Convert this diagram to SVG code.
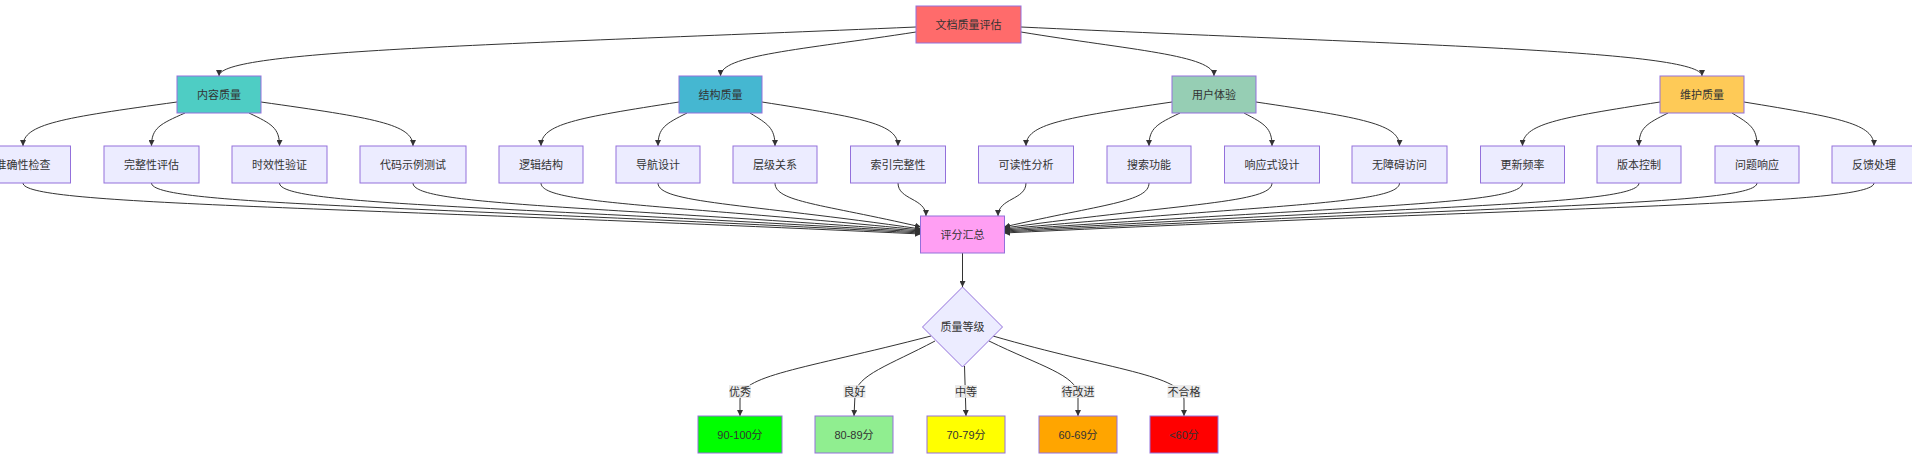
<svg xmlns="http://www.w3.org/2000/svg" width="1912" height="464" viewBox="0 0 1912 464">
<style>
.bg{fill:#ffffff}
.n rect,.n polygon{stroke:#9370DB;stroke-width:1;fill:#ECECFF}
.n text,.lbl text{font-family:"Liberation Sans","Noto Sans CJK SC",sans-serif;font-size:11px;fill:#333;text-anchor:middle;dominant-baseline:central}
.e path{fill:none;stroke:#333;stroke-width:1;marker-end:url(#arr)}
.lbl rect{fill:#e8e8e8;opacity:0.85}
</style>
<defs>
<marker id="arr" viewBox="0 0 10 10" refX="10" refY="5" markerUnits="userSpaceOnUse" markerWidth="6" markerHeight="6" orient="auto"><path d="M0,0 L10,5 L0,10 z" fill="#333"/></marker>
</defs>
<rect class="bg" x="0" y="0" width="1912" height="464"/>
<g id="edges" class="e">
<path d="M916,27 C500,45 219,50 219,76"/>
<path d="M916,32 C800,50 720.5,55 720.5,76"/>
<path d="M1021,32 C1130,50 1214,55 1214,76"/>
<path d="M1021,27 C1400,45 1702,50 1702,76"/>
<path d="M177,102 C61,118 23,124 23,146"/>
<path d="M185,113 C160,124 151.5,128 151.5,146"/>
<path d="M249,113 C272,124 279.5,128 279.5,146"/>
<path d="M261,102 C374,118 413,124 413,146"/>
<path d="M679,102 C576,118 541,124 541,146"/>
<path d="M687,113 C665,124 658,128 658,146"/>
<path d="M750,113 C768,124 775,128 775,146"/>
<path d="M762,102 C864,118 898,124 898,146"/>
<path d="M1172,102 C1063,118 1026,124 1026,146"/>
<path d="M1180,113 C1157,124 1149,128 1149,146"/>
<path d="M1244,113 C1265,124 1272,128 1272,146"/>
<path d="M1256,102 C1363,118 1399.5,124 1399.5,146"/>
<path d="M1660,102 C1557,118 1522.5,124 1522.5,146"/>
<path d="M1668,113 C1646,124 1639,128 1639,146"/>
<path d="M1732,113 C1750,124 1757,128 1757,146"/>
<path d="M1744,102 C1842,118 1874,124 1874,146"/>
<path d="M23,183 C23,205 300,205 921,234"/>
<path d="M151.5,183 C151.5,205 399,205 921,233"/>
<path d="M279.5,183 C279.5,205 485,205 921,232"/>
<path d="M413,183 C413,205 576,205 921,231"/>
<path d="M541,183 C541,204 663,204 921,230"/>
<path d="M658,183 C658,203 742,203 921,229"/>
<path d="M775,183 C775,202 822,204 921,227"/>
<path d="M898,183 C898,200 926,198 926,216"/>
<path d="M1026,183 C1026,200 998,198 998,216"/>
<path d="M1149,183 C1149,202 1103,204 1004,227"/>
<path d="M1272,183 C1272,203 1186,203 1004,228"/>
<path d="M1399.5,183 C1399.5,204 1273,204 1004,229"/>
<path d="M1522.5,183 C1522.5,205 1356,205 1004,230"/>
<path d="M1639,183 C1639,205 1433,205 1004,231"/>
<path d="M1757,183 C1757,205 1513,205 1004,232"/>
<path d="M1874,183 C1874,205 1590,205 1004,233"/>
<path d="M962.5,253 L962.5,287"/>
<path d="M931,336 C800,370 740,375 740,400 L740,416"/>
<path d="M935,341 C890,365 856,375 855,395 L854,416"/>
<path d="M964.5,366 L966,416"/>
<path d="M989,341 C1040,366 1077,375 1078,395 L1078,416"/>
<path d="M993,336 C1110,370 1184,375 1184,400 L1184,416"/>
</g>
<g id="edge-labels" class="lbl">
<g id="lbl-excellent"><rect x="729" y="385" width="22" height="13"/><text x="740" y="391.5">优秀</text></g>
<g id="lbl-good"><rect x="843.5" y="385" width="22" height="13"/><text x="854.5" y="391.5">良好</text></g>
<g id="lbl-medium"><rect x="955" y="385" width="22" height="13"/><text x="966" y="391.5">中等</text></g>
<g id="lbl-improve"><rect x="1061.5" y="385" width="33" height="13"/><text x="1078" y="391.5">待改进</text></g>
<g id="lbl-fail"><rect x="1167.5" y="385" width="33" height="13"/><text x="1184" y="391.5">不合格</text></g>
</g>
<g id="A" class="n"><rect x="916" y="6" width="105" height="37" style="fill:#ff6b6b"/><text x="968.5" y="24.5">文档质量评估</text></g>
<g id="B" class="n"><rect x="177" y="76" width="84" height="37" style="fill:#4ecdc4"/><text x="219" y="94.5">内容质量</text></g>
<g id="C" class="n"><rect x="679" y="76" width="83" height="37" style="fill:#45b7d1"/><text x="720.5" y="94.5">结构质量</text></g>
<g id="D" class="n"><rect x="1172" y="76" width="84" height="37" style="fill:#96ceb4"/><text x="1214" y="94.5">用户体验</text></g>
<g id="E" class="n"><rect x="1660" y="76" width="84" height="37" style="fill:#feca57"/><text x="1702" y="94.5">维护质量</text></g>
<g id="B1" class="n"><rect x="-24.5" y="146" width="95" height="37"/><text x="23" y="164.5">准确性检查</text></g>
<g id="B2" class="n"><rect x="104" y="146" width="95" height="37"/><text x="151.5" y="164.5">完整性评估</text></g>
<g id="B3" class="n"><rect x="232" y="146" width="95" height="37"/><text x="279.5" y="164.5">时效性验证</text></g>
<g id="B4" class="n"><rect x="360" y="146" width="106" height="37"/><text x="413" y="164.5">代码示例测试</text></g>
<g id="C1" class="n"><rect x="499" y="146" width="84" height="37"/><text x="541" y="164.5">逻辑结构</text></g>
<g id="C2" class="n"><rect x="616" y="146" width="84" height="37"/><text x="658" y="164.5">导航设计</text></g>
<g id="C3" class="n"><rect x="733" y="146" width="84" height="37"/><text x="775" y="164.5">层级关系</text></g>
<g id="C4" class="n"><rect x="850.5" y="146" width="95" height="37"/><text x="898" y="164.5">索引完整性</text></g>
<g id="D1" class="n"><rect x="978.5" y="146" width="95" height="37"/><text x="1026" y="164.5">可读性分析</text></g>
<g id="D2" class="n"><rect x="1107" y="146" width="84" height="37"/><text x="1149" y="164.5">搜索功能</text></g>
<g id="D3" class="n"><rect x="1224.5" y="146" width="95" height="37"/><text x="1272" y="164.5">响应式设计</text></g>
<g id="D4" class="n"><rect x="1352" y="146" width="95" height="37"/><text x="1399.5" y="164.5">无障碍访问</text></g>
<g id="E1" class="n"><rect x="1480.5" y="146" width="84" height="37"/><text x="1522.5" y="164.5">更新频率</text></g>
<g id="E2" class="n"><rect x="1597" y="146" width="84" height="37"/><text x="1639" y="164.5">版本控制</text></g>
<g id="E3" class="n"><rect x="1715" y="146" width="84" height="37"/><text x="1757" y="164.5">问题响应</text></g>
<g id="E4" class="n"><rect x="1832" y="146" width="84" height="37"/><text x="1874" y="164.5">反馈处理</text></g>
<g id="F" class="n"><rect x="920.5" y="216" width="84" height="37" style="fill:#ff9ff3"/><text x="962.5" y="234.5">评分汇总</text></g>
<g id="G" class="n"><polygon points="962.5,287 1002.5,327 962.5,367 922.5,327"/><text x="962.5" y="327">质量等级</text></g>
<g id="H1" class="n"><rect x="698" y="416" width="84" height="37" style="fill:#00ff00"/><text x="740" y="434.5">90-100分</text></g>
<g id="H2" class="n"><rect x="815" y="416" width="78" height="37" style="fill:#90ee90"/><text x="854" y="434.5">80-89分</text></g>
<g id="H3" class="n"><rect x="927" y="416" width="78" height="37" style="fill:#ffff00"/><text x="966" y="434.5">70-79分</text></g>
<g id="H4" class="n"><rect x="1039" y="416" width="78" height="37" style="fill:#ffa500"/><text x="1078" y="434.5">60-69分</text></g>
<g id="H5" class="n"><rect x="1150" y="416" width="68" height="37" style="fill:#ff0000"/><text x="1184" y="434.5">&lt;60分</text></g>
</svg>
